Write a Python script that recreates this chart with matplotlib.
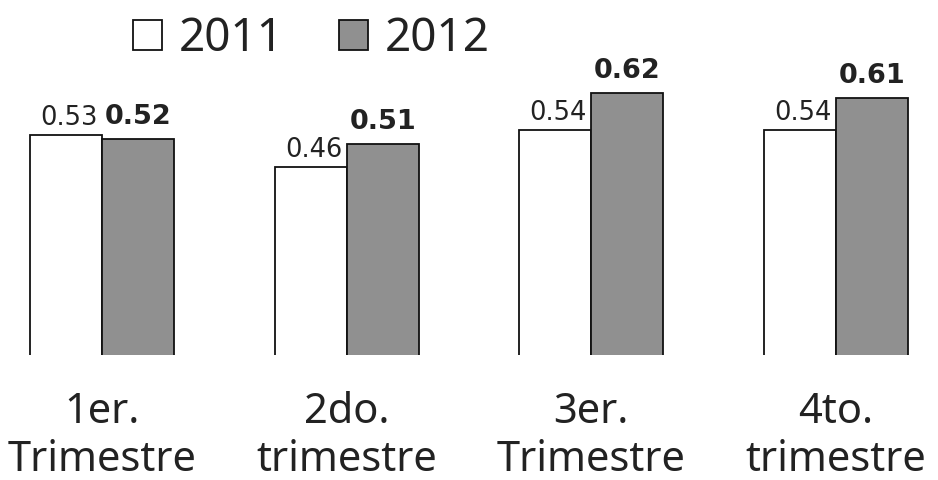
import matplotlib
matplotlib.use("Agg")
import matplotlib.pyplot as plt
import numpy as np

categories = ["1er.\nTrimestre", "2do.\ntrimestre", "3er.\nTrimestre", "4to.\ntrimestre"]
series_names = ["2011", "2012"]
values_2011 = [0.53, 0.46, 0.54, 0.54]
values_2012 = [0.52, 0.51, 0.62, 0.61]

plt.rcParams['font.family'] = ['Noto Sans', 'DejaVu Sans']

fig = plt.figure(figsize=(9.38, 4.8), dpi=100)
ax = fig.add_axes([0, 125/480, 1, 355/480])

x = np.arange(len(categories))
w = 0.294
b1 = ax.bar(x - w/2, values_2011, w, color='white', edgecolor='#111111', linewidth=1.3, label=series_names[0])
b2 = ax.bar(x + w/2, values_2012, w, color='#909090', edgecolor='#111111', linewidth=1.3, label=series_names[1])

ax.set_xlim(-0.417, 3.417)
ax.set_ylim(0.053, 0.821)

for rect, v in zip(b1, values_2011):
    ax.annotate(f"{v:.2f}", (rect.get_x() + rect.get_width()/2, rect.get_height()),
                xytext=(3, 10), textcoords='offset pixels', ha='center', va='baseline',
                fontsize=18.5, color='#222222', family='DejaVu Sans')
for rect, v in zip(b2, values_2012):
    ax.annotate(f"{v:.2f}", (rect.get_x() + rect.get_width()/2, rect.get_height()),
                xytext=(0, 15), textcoords='offset pixels', ha='center', va='baseline',
                fontsize=19.5, fontweight='bold', color='#222222', family='DejaVu Sans')

ax.set_xticks(x)
ax.set_xticklabels(categories, fontsize=30, linespacing=1.18, color='#222222')
ax.tick_params(axis='x', length=0, pad=26)
ax.set_yticks([])
for s in ax.spines.values():
    s.set_visible(False)

fig.legend(handles=[b1, b2], labels=series_names, loc='center',
           bbox_to_anchor=(311/938, 1 - 39/480), ncol=2, frameon=False,
           fontsize=33, handlelength=0.65, handleheight=0.65,
           handletextpad=0.35, columnspacing=1.2, labelcolor='#222222')

fig.savefig("out.png", dpi=100)
